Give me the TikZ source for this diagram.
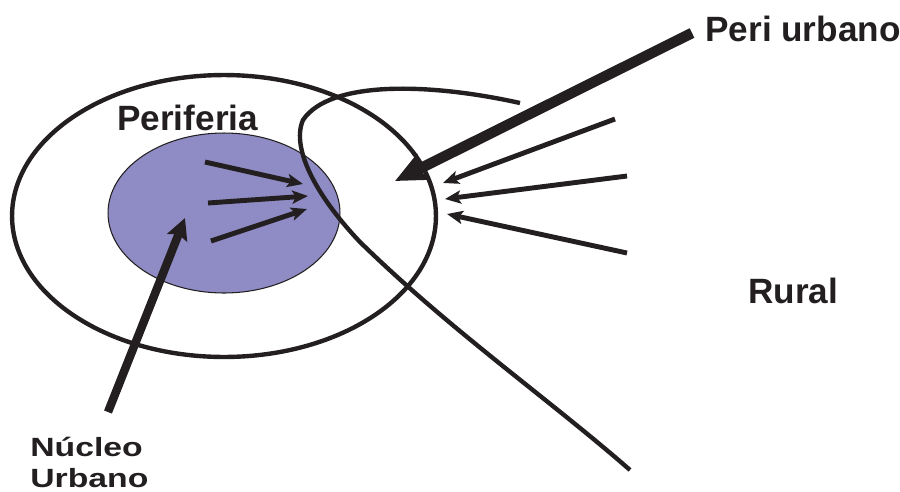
\documentclass[tikz,border=0pt]{standalone}
\usepackage{fontspec}
\setmainfont{Liberation Sans}
\newfontfamily\widefont[FakeStretch=1.28]{Liberation Sans}
\usetikzlibrary{shapes.geometric}
\usetikzlibrary{arrows.meta}

\definecolor{ink}{RGB}{35,31,32}
\definecolor{nucleo}{RGB}{143,139,196}

\tikzset{
  zona/.style={ellipse, draw=ink, inner sep=0pt, outer sep=0pt},
  etiqueta/.style={anchor=base west, inner sep=0pt, text=ink,
    font=\bfseries\fontsize{20}{24}\selectfont},
  flujo/.style={draw=ink, line width=2.8pt, -{Stealth[length=9pt, width=7.5pt, inset=2pt]}},
  flujogrueso/.style={draw=ink, -{Stealth[length=12pt, width=12pt, inset=2pt]}}
}

\begin{document}
\begin{tikzpicture}[x=0.02cm, y=-0.02cm]
        \useasboundingbox (0,0) rectangle (900,491);

        % Left: periphery and urban core
        \node[zona, line width=2.5pt, minimum width=8.48cm, minimum height=5.64cm] (periferia) at (224,216) {};
        \node[zona, fill=nucleo, line width=0.6pt, minimum width=4.64cm, minimum height=3.2cm] (nucleo) at (224,213) {};

        \node[etiqueta] (lperiferia) at (117,130) {Periferia};

        % Loop of the peri-urban zone
        \draw[ink, line width=2.5pt] (520,103) .. controls (430,83) and (330,80) .. (303,120)
            .. controls (290,150) and (320,200) .. (360,242)
            .. controls (450,330) and (550,400) .. (630,470);

        % Flows from the core outwards
        \foreach \i/\sx/\sy/\ex/\ey in {1/205/162/303/184, 2/208/203/308/196, 3/211/241/307/209} {
            \coordinate (sal\i) at (\sx,\sy);
            \coordinate (lleg\i) at (\ex,\ey);
            \draw[flujo] (sal\i) -- (lleg\i);
        }

        % Flows from the rural zone
        \foreach \i/\sx/\sy/\ex/\ey in {1/615/119/443/183, 2/627/176/445/199, 3/627/253/447/214} {
            \coordinate (rur\i) at (\sx,\sy);
            \coordinate (borde\i) at (\ex,\ey);
            \draw[flujo] (rur\i) -- (borde\i);
        }

        % Peri urbano pointer
        \node[etiqueta] (lperiurbano) at (705,41) {Peri urbano};
        \coordinate (periurb) at (692,33);
        \coordinate (periurbpunta) at (395,181);
        \draw[flujogrueso, line width=6pt, -{Stealth[length=18pt, width=16pt, inset=3pt]}] (periurb) -- (periurbpunta);

        \node[etiqueta] (lrural) at (748,303) {Rural};

        % Nucleo urbano pointer
        \node[etiqueta, font=\widefont\bfseries\fontsize{15}{18}\selectfont] (lnucleo) at (30,456) {Núcleo};
        \node[etiqueta, font=\widefont\bfseries\fontsize{15}{18}\selectfont] (lurbano) at (30,487) {Urbano};
        \coordinate (nuc) at (108,412);
        \coordinate (nucpunta) at (185,218);
        \draw[flujogrueso, line width=4.8pt] (nuc) -- (nucpunta);

    \end{tikzpicture}
\end{document}
